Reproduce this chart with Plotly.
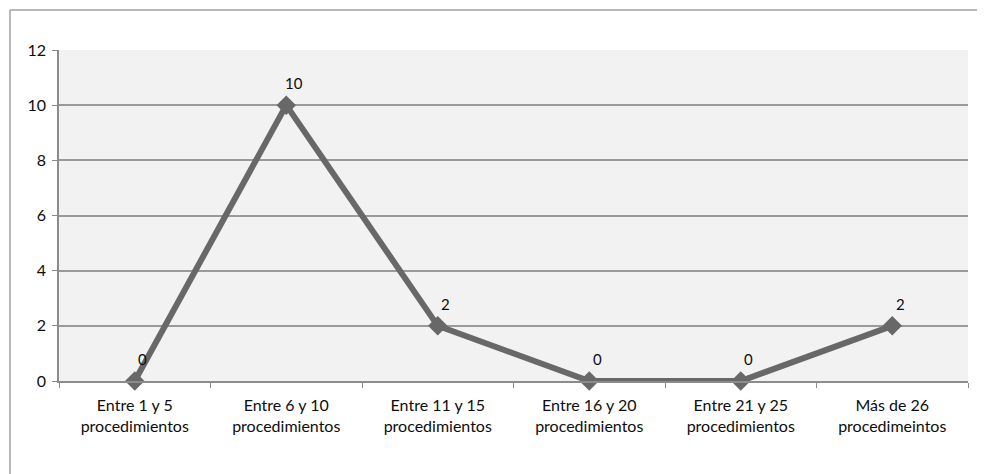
import plotly.graph_objects as go

categories = ["Entre 1 y 5<br>procedimientos", "Entre 6 y 10<br>procedimientos",
              "Entre 11 y 15<br>procedimientos", "Entre 16 y 20<br>procedimientos",
              "Entre 21 y 25<br>procedimientos", "Más de 26<br>procedimeintos"]
values = [0, 10, 2, 0, 0, 2]
y_ticks = [0, 2, 4, 6, 8, 10, 12]

FONT = "Lato, Open Sans, sans-serif"
TXT = "#0d0d0d"

# page body has an 8px margin; figure is sized/offset to compensate
W, H = 977, 466
L, R, T, B = 51, 17, 42, 93
pw, ph = W - L - R, H - T - B


def px_x(x):  # page x pixel -> paper
    return (x - 8 - L) / pw


def px_y(y):  # page y pixel -> paper
    return (8 + H - B - y) / ph


fig = go.Figure()
fig.add_trace(go.Scatter(
    x=categories, y=values, mode="lines+markers",
    line=dict(color="#686868", width=6),
    marker=dict(symbol="diamond", size=15, color="#686868"),
    cliponaxis=False, showlegend=False,
))

annotations = [
    dict(x=c, y=v, xref="x", yref="y", text=str(v), showarrow=False,
         xshift=8, yshift=22, font=dict(family=FONT, size=15, color=TXT))
    for c, v in zip(categories, values)
]

fig.update_layout(
    width=W, height=H,
    margin=dict(l=L, r=R, t=T, b=B),
    paper_bgcolor="white", plot_bgcolor="#f2f2f2",
    font=dict(family=FONT, size=16, color=TXT),
    annotations=annotations,
    xaxis=dict(
        type="category", tickson="boundaries", ticks="outside", ticklen=5,
        tickcolor="#8c8c8c", showgrid=False, showline=True, linecolor="#8c8c8c",
        linewidth=1.5, tickfont=dict(family=FONT, size=16, color=TXT),
        ticklabelstandoff=9, range=[-0.5, 5.5],
    ),
    yaxis=dict(
        range=[0, 12], tickvals=y_ticks, ticks="outside", ticklen=5,
        tickcolor="#8c8c8c", showgrid=True, gridcolor="#9a9a9a", gridwidth=1.5,
        showline=True, linecolor="#8c8c8c", linewidth=1.5, zeroline=False,
        tickfont=dict(family=FONT, size=16, color=TXT), ticklabelstandoff=3,
    ),
    shapes=[
        dict(type="line", xref="paper", yref="paper", x0=px_x(10), x1=px_x(985),
             y0=px_y(10), y1=px_y(10), line=dict(color="#a0a0a0", width=1.5)),
        dict(type="line", xref="paper", yref="paper", x0=px_x(10), x1=px_x(10),
             y0=px_y(10), y1=px_y(474), line=dict(color="#a0a0a0", width=1.5)),
    ],
)

fig.write_html("out.html")
